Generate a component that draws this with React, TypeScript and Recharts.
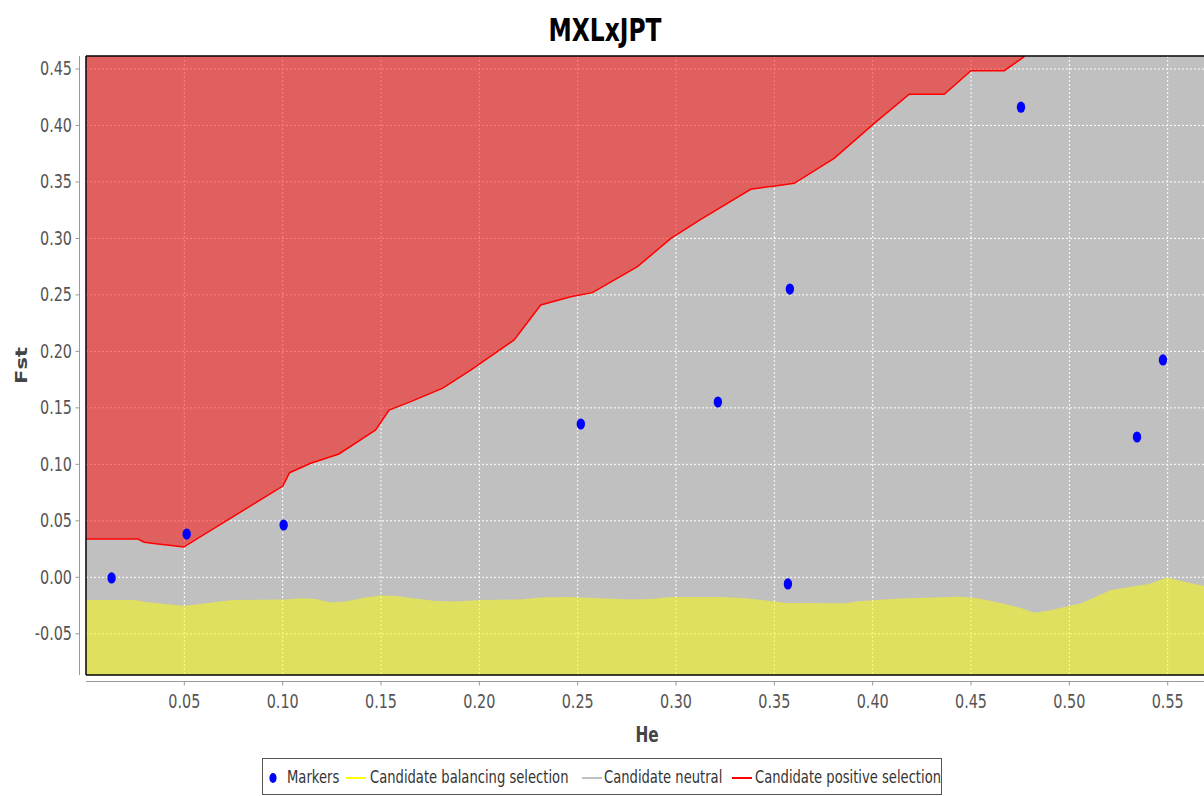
import React from 'react';
import {
  ComposedChart,
  Area,
  Scatter,
  XAxis,
  YAxis,
  CartesianGrid,
  ReferenceLine,
  Legend,
  Label,
} from 'recharts';

// ---------- text ----------
const TITLE = 'MXLxJPT';
const X_LABEL = 'He';
const Y_LABEL = 'Fst';
const SERIES_NAMES = [
  'Markers',
  'Candidate balancing selection',
  'Candidate neutral',
  'Candidate positive selection',
];

// ---------- axes ----------
const X_TICKS = [0.05, 0.1, 0.15, 0.2, 0.25, 0.3, 0.35, 0.4, 0.45, 0.5, 0.55];
const Y_TICKS = [-0.05, 0, 0.05, 0.1, 0.15, 0.2, 0.25, 0.3, 0.35, 0.4, 0.45];
const X_DOMAIN: [number, number] = [0, 0.5705];
const Y_DOMAIN: [number, number] = [-0.0865, 0.4615];

// ---------- data: markers ----------
const markerHe = [0.013, 0.0512, 0.1005, 0.2516, 0.3213, 0.3579, 0.3569, 0.4754, 0.5344, 0.5476];
const markerFst = [-0.0006, 0.0383, 0.0463, 0.1357, 0.1552, 0.2552, -0.0059, 0.4162, 0.1242, 0.1924];

// ---------- data: candidate positive selection boundary ----------
const positiveHe = [
  0.0, 0.0264, 0.0296, 0.0366, 0.0423, 0.0497, 0.1001, 0.1035, 0.1143, 0.1286,
  0.1473, 0.1541, 0.1651, 0.1812, 0.1956, 0.2177, 0.2312, 0.2465, 0.2575, 0.2804,
  0.2974, 0.3126, 0.338, 0.3601, 0.3804, 0.4008, 0.4186, 0.4364, 0.45, 0.4669, 0.4771,
];
const positiveFst = [
  0.0339, 0.0339, 0.031, 0.0295, 0.0283, 0.0268, 0.0808, 0.0926, 0.1009, 0.1092,
  0.1304, 0.1481, 0.1555, 0.1673, 0.1835, 0.2101, 0.2411, 0.2484, 0.252, 0.275,
  0.3001, 0.3169, 0.3435, 0.3488, 0.3709, 0.4019, 0.4276, 0.4276, 0.4485, 0.4485, 0.4609,
];

// ---------- data: candidate balancing selection boundary ----------
const balancingHe = [
  0.0, 0.0252, 0.0303, 0.038, 0.0456, 0.0506, 0.0583, 0.0659, 0.0746, 0.1015,
  0.1091, 0.1168, 0.1244, 0.132, 0.1407, 0.1498, 0.1575, 0.1661, 0.1778, 0.188,
  0.2007, 0.2211, 0.2312, 0.2439, 0.2617, 0.277, 0.2872, 0.2974, 0.3228, 0.3355,
  0.3457, 0.3559, 0.3864, 0.3915, 0.4016, 0.4144, 0.4439, 0.4525, 0.4652, 0.4754,
  0.482, 0.4891, 0.5059, 0.5212, 0.5313, 0.5405, 0.5497, 0.5619, 0.571,
];
const balancingFst = [
  -0.0201, -0.0201, -0.0219, -0.0232, -0.0245, -0.0252, -0.0236, -0.0219, -0.0201, -0.0197,
  -0.0186, -0.0192, -0.0223, -0.0214, -0.0183, -0.0161, -0.0166, -0.0186, -0.021, -0.0214,
  -0.0201, -0.0197, -0.0179, -0.0174, -0.0186, -0.0197, -0.0192, -0.0174, -0.0174, -0.0186,
  -0.0205, -0.0228, -0.023, -0.0214, -0.0201, -0.0188, -0.0172, -0.0183, -0.0227, -0.0271,
  -0.0315, -0.0296, -0.023, -0.0112, -0.0083, -0.0059, -0.0002, -0.0053, -0.0086,
];

const markers = markerHe.map((he, i) => ({ he, fst: markerFst[i] }));
const positive = positiveHe.map((he, i) => ({ he, fst: positiveFst[i] }));
const balancing = balancingHe.map((he, i) => ({ he, fst: balancingFst[i] }));

// ---------- style ----------
const FONT = '"DejaVu Sans", "Noto Sans", sans-serif';
const SX = 0.73; // horizontal squeeze of the reference rendering
const CHART_W = 1204;
const CHART_H = 788;
const MARGIN = { top: 48, right: 4, bottom: 0, left: 0 };
const Y_AXIS_W = 78;
const X_AXIS_H = 83;
const LEGEND_H = 38;
const PLOT_W = CHART_W - MARGIN.left - MARGIN.right - Y_AXIS_W;
const PLOT_H = CHART_H - MARGIN.top - MARGIN.bottom - LEGEND_H - X_AXIS_H;
const X_PER_PX = (X_DOMAIN[1] - X_DOMAIN[0]) / PLOT_W;
const Y_PER_PX = (Y_DOMAIN[1] - Y_DOMAIN[0]) / PLOT_H;
const AXIS_GAP = 6.5;
const X_AXIS_LINE_Y = Y_DOMAIN[0] - AXIS_GAP * Y_PER_PX;
const Y_AXIS_LINE_X = X_DOMAIN[0] - AXIS_GAP * X_PER_PX;

const COLORS = {
  markers: '#0000FF',
  balancing: '#FFFF00',
  neutral: '#C0C0C0',
  positive: '#FF0000',
};

const XTick = (props: any) => {
  const { x, y, payload } = props;
  return (
    <g>
      <line x1={x} x2={x} y1={y + AXIS_GAP} y2={y + AXIS_GAP + 4} stroke="#999" />
      <text
        transform={`translate(${x},${y + 33}) scale(${SX},1)`}
        textAnchor="middle"
        fontSize={19.7}
        fontFamily={FONT}
        fill="#555"
      >
        {Number(payload.value).toFixed(2)}
      </text>
    </g>
  );
};

const YTick = (props: any) => {
  const { x, y, payload } = props;
  return (
    <g>
      <line x1={x - AXIS_GAP - 4} x2={x - AXIS_GAP} y1={y} y2={y} stroke="#999" />
      <text
        transform={`translate(${x - 14},${y + 6.3}) scale(${SX},1)`}
        textAnchor="end"
        fontSize={19.7}
        fontFamily={FONT}
        fill="#555"
      >
        {Number(payload.value).toFixed(2)}
      </text>
    </g>
  );
};

const XAxisLabel = (props: any) => {
  const vb = props.viewBox || {};
  const cx = vb.x + vb.width / 2;
  return (
    <text
      transform={`translate(${cx},${vb.y + 67}) scale(${SX},1)`}
      textAnchor="middle"
      fontSize={21}
      fontWeight="bold"
      fontFamily={FONT}
      fill="#444"
    >
      {X_LABEL}
    </text>
  );
};

const YAxisLabel = (props: any) => {
  const vb = props.viewBox || {};
  const cy = vb.y + vb.height / 2;
  return (
    <text
      transform={`translate(19,${cy}) scale(${SX},1) rotate(-90)`}
      textAnchor="middle"
      fontSize={21}
      fontWeight="bold"
      fontFamily={FONT}
      fill="#444"
    >
      {Y_LABEL}
    </text>
  );
};

const LEGEND_LAYOUT = [
  { icon: 'dot', iconX: 11, textX: 25, color: COLORS.markers },
  { icon: 'line', iconX: 84, textX: 108, color: COLORS.balancing },
  { icon: 'line', iconX: 320, textX: 342, color: COLORS.neutral },
  { icon: 'line', iconX: 470, textX: 493, color: COLORS.positive },
];

const LegendContent = () => (
  <svg width={680} height={LEGEND_H} style={{ display: 'block' }}>
    <rect x={0.5} y={0.5} width={679} height={36} fill="#FFFFFF" stroke="#555" />
    {LEGEND_LAYOUT.map((it, i) => (
      <g key={SERIES_NAMES[i]}>
        {it.icon === 'dot' ? (
          <ellipse cx={it.iconX} cy={20} rx={3.6} ry={5} fill={it.color} />
        ) : (
          <line x1={it.iconX} x2={it.iconX + 20} y1={20} y2={20} stroke={it.color} strokeWidth={2} />
        )}
        <text
          transform={`translate(${it.textX},25) scale(${SX},1)`}
          fontSize={18}
          fontFamily={FONT}
          fill="#333"
        >
          {SERIES_NAMES[i]}
        </text>
      </g>
    ))}
  </svg>
);

const MarkerShape = (props: any) => (
  <ellipse cx={props.cx} cy={props.cy} rx={4.2} ry={5.6} fill={COLORS.markers} />
);

export default function App() {
  return (
    <div
      style={{
        position: 'fixed',
        left: 8,
        top: 8,
        width: 1196,
        height: CHART_H,
        overflow: 'hidden',
        background: '#FFFFFF',
      }}
    >
      <ComposedChart width={CHART_W} height={CHART_H} margin={MARGIN}>
        <CartesianGrid
          fill={COLORS.neutral}
          fillOpacity={1}
          stroke="#FFFFFF"
          strokeDasharray="2 2"
        />
        <XAxis
          type="number"
          dataKey="he"
          domain={X_DOMAIN}
          ticks={X_TICKS}
          allowDataOverflow
          height={X_AXIS_H}
          axisLine={false}
          tickLine={false}
          tickSize={0}
          tickMargin={0}
          tick={(p: any) => <XTick {...p} />}
          interval={0}
        >
          <Label content={(p: any) => <XAxisLabel {...p} />} />
        </XAxis>
        <YAxis
          type="number"
          domain={Y_DOMAIN}
          ticks={Y_TICKS}
          allowDataOverflow
          width={Y_AXIS_W}
          axisLine={false}
          tickLine={false}
          tickSize={0}
          tickMargin={0}
          tick={(p: any) => <YTick {...p} />}
          interval={0}
        >
          <Label content={(p: any) => <YAxisLabel {...p} />} />
        </YAxis>
        <Area
          name={SERIES_NAMES[1]}
          data={balancing}
          dataKey="fst"
          type="linear"
          baseValue="dataMin"
          stroke="none"
          fill={COLORS.balancing}
          fillOpacity={0.5}
          dot={false}
          activeDot={false}
          isAnimationActive={false}
        />
        <Area
          name={SERIES_NAMES[3]}
          data={positive}
          dataKey="fst"
          type="linear"
          baseValue="dataMax"
          stroke={COLORS.positive}
          strokeWidth={1.5}
          fill={COLORS.positive}
          fillOpacity={0.5}
          dot={false}
          activeDot={false}
          isAnimationActive={false}
        />
        <ReferenceLine
          segment={[
            { x: Y_AXIS_LINE_X, y: Y_DOMAIN[0] },
            { x: Y_AXIS_LINE_X, y: Y_DOMAIN[1] },
          ]}
          stroke="#999"
          ifOverflow="visible"
        />
        <ReferenceLine
          segment={[
            { x: X_DOMAIN[0], y: X_AXIS_LINE_Y },
            { x: X_DOMAIN[1], y: X_AXIS_LINE_Y },
          ]}
          stroke="#999"
          ifOverflow="visible"
        />
        <ReferenceLine x={X_DOMAIN[0]} stroke="#000" strokeWidth={1.5} ifOverflow="visible" />
        <ReferenceLine y={Y_DOMAIN[1]} stroke="#000" strokeWidth={1.5} ifOverflow="visible" />
        <ReferenceLine y={Y_DOMAIN[0]} stroke="#000" strokeWidth={1.5} ifOverflow="visible" />
        <Scatter
          name={SERIES_NAMES[0]}
          data={markers}
          dataKey="fst"
          fill={COLORS.markers}
          shape={(p: any) => <MarkerShape {...p} />}
          isAnimationActive={false}
        />
        <Legend
          verticalAlign="bottom"
          align="left"
          width={680}
          height={LEGEND_H}
          wrapperStyle={{ left: 254, bottom: 0 }}
          content={() => <LegendContent />}
        />
      </ComposedChart>
      <svg
        width={1196}
        height={48}
        style={{ position: 'absolute', left: 0, top: 0, pointerEvents: 'none' }}
      >
        <text
          transform={`translate(597,33) scale(${SX},1)`}
          textAnchor="middle"
          fontSize={32}
          fontWeight="bold"
          fontFamily={FONT}
          fill="#000"
        >
          {TITLE}
        </text>
      </svg>
    </div>
  );
}
